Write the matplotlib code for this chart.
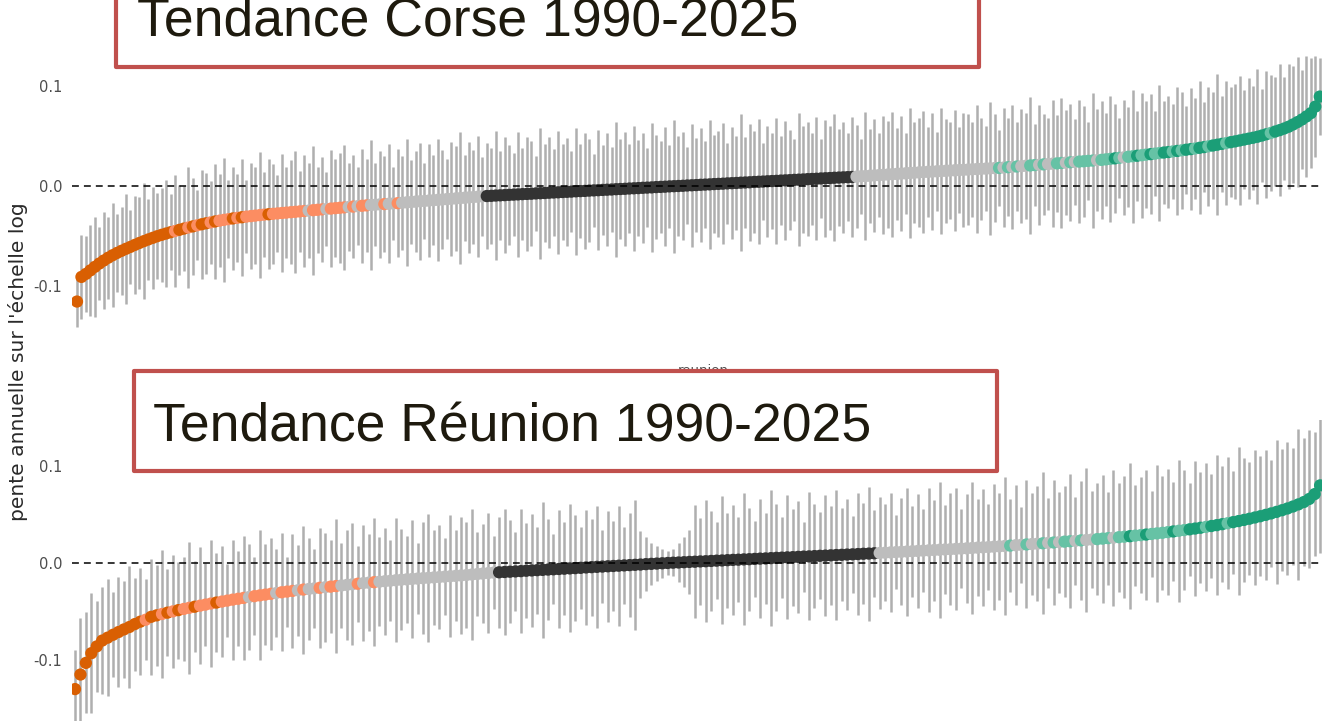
import numpy as np
import matplotlib.pyplot as plt
from matplotlib.patches import Rectangle

# sites sorted by annual slope (log scale), slope x1e-4, CI half-width x1e-3
corse_slope = [
    -1150, -905, -875, -840, -805, -772, -742, -714, -689, -666,
    -645, -625, -606, -586, -567, -549, -532, -516, -500, -486,
    -473, -460, -448, -436, -424, -413, -402, -391, -381, -371,
    -362, -353, -345, -337, -330, -323, -317, -311, -305, -300,
    -295, -290, -285, -281, -277, -273, -269, -265, -261, -257,
    -253, -249, -245, -241, -237, -233, -229, -225, -221, -217,
    -213, -209, -205, -201, -197, -193, -189, -186, -183, -180,
    -177, -174, -171, -167, -163, -160, -156, -152, -149, -145,
    -142, -138, -135, -131, -128, -124, -121, -117, -114, -110,
    -107, -103, -100, -98, -95, -93, -91, -88, -86, -84,
    -81, -79, -77, -74, -72, -70, -67, -65, -63, -60,
    -58, -56, -53, -51, -49, -46, -44, -42, -39, -37,
    -35, -32, -30, -28, -25, -23, -21, -18, -16, -14,
    -11, -9, -7, -4, -2, 0, 2, 5, 7, 9,
    12, 14, 16, 19, 21, 23, 26, 28, 30, 33,
    35, 37, 40, 42, 44, 47, 49, 51, 54, 56,
    58, 61, 63, 65, 68, 70, 72, 75, 77, 79,
    82, 84, 86, 88, 90, 93, 96, 99, 102, 105,
    108, 111, 114, 117, 120, 123, 126, 129, 132, 135,
    138, 141, 143, 146, 148, 151, 153, 156, 158, 161,
    163, 166, 168, 171, 173, 175, 178, 180, 183, 187,
    190, 194, 197, 201, 204, 208, 211, 215, 218, 222,
    225, 229, 232, 236, 239, 243, 246, 250, 253, 257,
    260, 265, 270, 275, 280, 285, 291, 296, 301, 306,
    312, 317, 322, 328, 333, 338, 344, 349, 355, 361,
    367, 373, 380, 387, 395, 403, 411, 419, 427, 436,
    444, 453, 462, 471, 480, 490, 502, 515, 528, 542,
    556, 572, 590, 612, 636, 662, 692, 725, 790, 890,
]
corse_ci = [
    25, 42, 38, 45, 50, 36, 48, 41, 52, 39,
    44, 55, 37, 49, 46, 58, 40, 51, 43, 47,
    53, 38, 56, 45, 42, 60, 48, 35, 54, 50,
    41, 57, 46, 62, 39, 51, 44, 58, 36, 53,
    48, 63, 42, 55, 50, 38, 59, 45, 52, 61,
    40, 56, 47, 64, 43, 52, 37, 58, 49, 55,
    62, 44, 51, 39, 57, 46, 65, 41, 53, 48,
    59, 36, 54, 47, 63, 42, 50, 58, 38, 56,
    45, 61, 49, 40, 57, 52, 66, 43, 55, 47,
    60, 39, 53, 48, 64, 44, 58, 50, 41, 62,
    46, 57, 52, 37, 65, 49, 55, 43, 61, 48,
    54, 40, 63, 47, 58, 51, 36, 60, 45, 56,
    42, 67, 50, 57, 44, 62, 48, 55, 39, 64,
    52, 46, 59, 41, 66, 50, 54, 38, 61, 47,
    57, 43, 64, 49, 53, 60, 40, 56, 47, 68,
    45, 58, 51, 62, 38, 55, 48, 63, 44, 59,
    50, 41, 66, 53, 57, 46, 61, 39, 58, 52,
    63, 48, 55, 44, 60, 51, 37, 64, 47, 56,
    42, 59, 53, 62, 46, 57, 40, 65, 50, 54,
    61, 45, 58, 39, 63, 52, 48, 60, 43, 57,
    55, 47, 64, 51, 42, 66, 54, 38, 59, 49,
    62, 44, 57, 53, 68, 41, 60, 50, 46, 63,
    48, 65, 52, 58, 43, 61, 55, 39, 67, 51,
    59, 46, 63, 54, 40, 57, 50, 66, 45, 62,
    53, 60, 42, 68, 51, 56, 47, 64, 58, 44,
    61, 50, 66, 45, 59, 53, 70, 48, 62, 55,
    57, 64, 49, 60, 52, 67, 46, 63, 58, 54,
    66, 51, 62, 58, 65, 49, 60, 55, 50, 38,
]
# D forte baisse, d baisse, n non significatif, s stable, i hausse, I forte hausse
corse_class = (
    "DDDDDDDDDD DDDDDDDDDD DDdDDdDdDD dDdddDdDdd dddDdddddd "
    "ddndddnddd dndnddnnnd nndnnnnnnn nnnnnnnnnn nnssssssss "
    "ssssssssss ssssssssss ssssssssss ssssssssss ssssssssss "
    "ssssssssss ssssssssss sssssnnnnn nnnnnnnnnn nnnnnnnnnn "
    "nnnnnnnini ninniininn iininiiiin iiiIiniiIi iIiiIIiIiI "
    "IiIIiIIIiI IIIIIIIIiI IIIIIIIIII"
).replace(" ", "")

reunion_slope = [
    -1300, -1150, -1030, -930, -860, -800, -770, -740, -712, -685,
    -660, -630, -605, -585, -555, -540, -526, -512, -499, -486,
    -474, -462, -451, -440, -429, -418, -408, -398, -388, -378,
    -369, -360, -351, -342, -334, -326, -318, -310, -302, -295,
    -288, -281, -274, -268, -262, -256, -250, -244, -238, -232,
    -226, -220, -214, -208, -203, -198, -193, -188, -183, -178,
    -173, -169, -165, -161, -157, -153, -149, -145, -141, -137,
    -133, -129, -124, -119, -114, -109, -104, -99, -96, -93,
    -90, -87, -84, -80, -77, -74, -71, -68, -65, -62,
    -59, -56, -53, -50, -46, -43, -40, -37, -34, -31,
    -28, -25, -22, -19, -16, -12, -9, -6, -3, 0,
    3, 5, 8, 11, 13, 16, 18, 21, 24, 26,
    29, 32, 34, 37, 39, 42, 45, 47, 50, 53,
    55, 58, 60, 63, 66, 68, 71, 74, 76, 79,
    82, 84, 87, 89, 92, 95, 97, 100, 103, 106,
    109, 112, 115, 118, 121, 124, 127, 130, 133, 136,
    139, 142, 145, 148, 151, 154, 158, 161, 164, 168,
    171, 175, 179, 183, 187, 191, 195, 199, 203, 207,
    211, 215, 220, 224, 228, 233, 237, 242, 246, 251,
    256, 261, 266, 271, 276, 282, 287, 293, 299, 305,
    311, 318, 325, 332, 339, 347, 355, 363, 372, 381,
    390, 400, 410, 421, 432, 444, 456, 469, 482, 496,
    511, 527, 544, 562, 582, 604, 628, 660, 710, 800,
]
reunion_ci = [
    40, 58, 52, 62, 47, 55, 60, 44, 57, 50,
    63, 48, 55, 42, 60, 52, 66, 45, 58, 50,
    54, 68, 47, 60, 43, 65, 51, 57, 38, 62,
    49, 64, 55, 40, 67, 52, 58, 45, 61, 36,
    59, 47, 66, 53, 41, 62, 56, 48, 69, 44,
    57, 63, 39, 60, 50, 66, 46, 55, 42, 64,
    52, 45, 61, 37, 58, 66, 49, 54, 40, 63,
    47, 60, 55, 68, 43, 51, 62, 38, 57, 65,
    53, 41, 64, 49, 58, 45, 70, 52, 36, 61,
    48, 66, 55, 42, 59, 50, 63, 38, 57, 46,
    62, 40, 54, 67, 35, 28, 22, 18, 15, 12,
    14, 20, 26, 33, 58, 45, 63, 52, 40, 66,
    49, 57, 44, 68, 53, 39, 61, 47, 70, 55,
    42, 64, 50, 58, 36, 66, 54, 45, 62, 51,
    67, 48, 57, 40, 63, 52, 69, 45, 58, 50,
    61, 38, 55, 66, 47, 59, 43, 64, 52, 70,
    46, 58, 63, 41, 56, 68, 50, 60, 44, 65,
    55, 71, 48, 62, 39, 66, 53, 59, 73, 46,
    64, 52, 57, 69, 45, 61, 74, 50, 58, 66,
    48, 70, 56, 63, 75, 52, 60, 67, 44, 71,
    59, 65, 51, 73, 62, 48, 70, 57, 66, 54,
    72, 60, 68, 53, 76, 64, 58, 70, 62, 67,
    55, 74, 63, 69, 60, 78, 66, 71, 64, 70,
]
reunion_class = (
    "DDDDDDDDDD DDDdDDdDdD ddDdddDddd ddnddddndd dndnndnddn "
    "nndnndnnnn nnnnnnnnnn nnnnnnnnss ssssssssss ssssssssss "
    "ssssssssss ssssssssss ssssssssss ssssssssss ssssssssnn "
    "nnnnnnnnnn nnnnnnnnnn nninninnin iniininnii iniiIiiIii "
    "iiIiiIIIiI IIiIIIIIII IIIIIIIIII"
).replace(" ", "")

class_colors = {"D": "#d95f02", "d": "#fc8d62", "n": "#bdbdbd",
                "s": "#333333", "i": "#66c2a5", "I": "#1b9e77"}

W, H = 1322, 721
fig = plt.figure(figsize=(W / 100, H / 100), dpi=100)


def panel(top, bottom, ylim, xlim, slope, ci, cls):
    ax = fig.add_axes([72 / W, 1 - bottom / H, 1250 / W, (bottom - top) / H])
    rank = np.arange(1, len(slope) + 1)
    est = np.array(slope) / 1e4
    hw = np.array(ci) / 1e3
    ax.vlines(rank, est - hw, est + hw, color="#949494", lw=1.8, alpha=0.75, zorder=1)
    ax.scatter(rank, est, s=78, c=[class_colors[k] for k in cls],
               edgecolors="none", zorder=3)
    ax.axhline(0, color="black", lw=1.1, ls=(0, (4.5, 3.3)), zorder=4)
    ax.set_xlim(*xlim)
    ax.set_ylim(*ylim)
    ax.set_xticks([])
    ax.set_yticks([-0.1, 0.0, 0.1])
    ax.set_yticklabels(["-0.1", "0.0", "0.1"])
    ax.tick_params(axis="y", length=0, pad=7, labelsize=10.5, labelcolor="#4d4d4d")
    for sp in ax.spines.values():
        sp.set_visible(False)
    ax.patch.set_alpha(0)
    return ax


panel(40, 335, (-0.1483, 0.1453), (-0.122, 280.5), corse_slope, corse_ci, corse_class)
panel(420, 721, (-0.1629, 0.1474), (0.448, 230.35), reunion_slope, reunion_ci, reunion_class)

fig.text(18 / W, 1 - 362 / H, "pente annuelle sur l'échelle log", rotation=90,
         ha="center", va="center", fontsize=14.6, color="#2a2a2a")
fig.text(703 / W, 1 - 370 / H, "reunion", ha="center", va="center",
         fontsize=9.5, color="#4d4d4d")


def title_box(x0, y0, x1, y1, tx, ty, label):
    fig.patches.append(Rectangle((x0 / W, 1 - y1 / H), (x1 - x0) / W, (y1 - y0) / H,
                                 transform=fig.transFigure, facecolor="white",
                                 edgecolor="#c0504d", lw=3, joinstyle="round", zorder=5))
    fig.text(tx / W, 1 - ty / H, label, ha="left", va="baseline",
             fontsize=38.5, family="Liberation Sans", color="#1e1a0e", zorder=6)


title_box(116, -40, 979, 67, 137, 35, "Tendance Corse 1990-2025")
title_box(134, 371, 997, 471, 153, 442, "Tendance Réunion 1990-2025")

fig.savefig("out.png", dpi=100)
